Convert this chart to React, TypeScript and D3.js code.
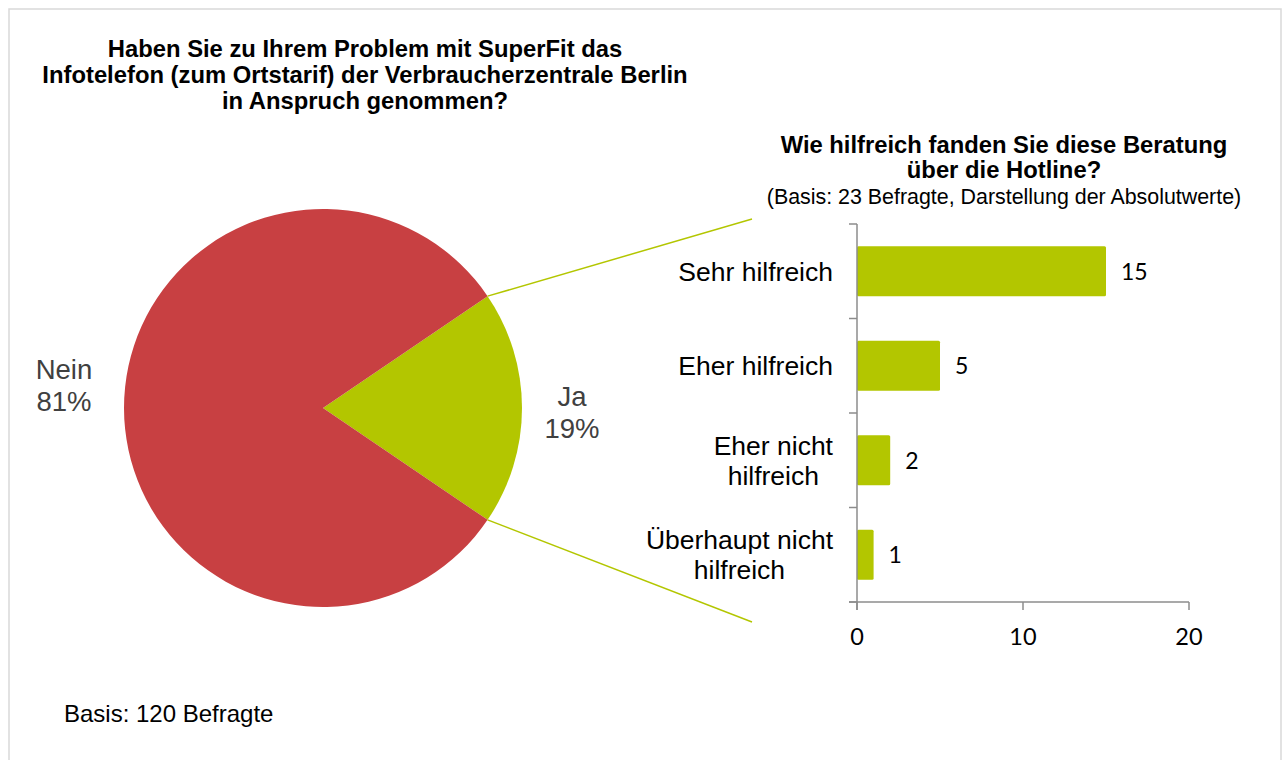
import React from 'react';
import * as d3 from 'd3';

// pie: did they use the hotline?
const pieLabels = ['Ja', 'Nein'];
const pieValues = [19, 81];

// bar: how helpful was it
const barCategories = ['Sehr hilfreich', 'Eher hilfreich', 'Eher nicht hilfreich', 'Überhaupt nicht hilfreich'];
const barLabelLines = [['Sehr hilfreich'], ['Eher hilfreich'], ['Eher nicht', 'hilfreich'], ['Überhaupt nicht', 'hilfreich']];
const barValues = [15, 5, 2, 1];
const xTicks = [0, 10, 20];

const titleLines = [
  'Haben Sie zu Ihrem Problem mit SuperFit das',
  'Infotelefon (zum Ortstarif) der Verbraucherzentrale Berlin',
  'in Anspruch genommen?',
];
const barTitleLines = ['Wie hilfreich fanden Sie diese Beratung', 'über die Hotline?'];
const barSubtitle = '(Basis: 23 Befragte, Darstellung der Absolutwerte)';
const footnote = 'Basis: 120 Befragte';

const RED = '#C84042';
const GREEN = '#B3C600';
const AXIS = '#8C8C8C';
const ARIAL = "'Liberation Sans', Arial, sans-serif";
const CALIBRI = "Lato, 'Open Sans', sans-serif";

const ctx = document.createElement('canvas').getContext('2d');
function textWidth(t: string, font: string) {
  if (!ctx) return t.length * 12;
  ctx.font = font;
  return ctx.measureText(t).width;
}

const App = () => {
  const width = 1286;
  const height = 760;

  // pie geometry
  const cx = 323;
  const cy = 408;
  const r = 199;
  const total = d3.sum(pieValues);
  const start = Math.PI / 2 - (pieValues[0] / total) * Math.PI;
  const pie = d3.pie<number>().sort(null).startAngle(start).endAngle(start + 2 * Math.PI);
  const arcs = pie(pieValues);
  const arc = d3.arc<d3.PieArcDatum<number>>().innerRadius(0).outerRadius(r);
  const labelArc = d3.arc<d3.PieArcDatum<number>>().innerRadius(255).outerRadius(255);
  const labelNudge = [[-6, 4], [-4, -23]];

  // bar geometry
  const x = d3.scaleLinear().domain([0, 20]).range([857, 1189]);
  const y = d3.scaleBand<string>().domain(barCategories).range([224, 602]).paddingInner(0.47).paddingOuter(0.235);
  const yTop = 224;
  const yBottom = 602;
  const step = y.step();
  const boundaries = d3.range(barCategories.length + 1).map((i) => yTop + i * step);

  const ja = arcs[0];
  const p1 = [Math.sin(ja.startAngle) * r, -Math.cos(ja.startAngle) * r];
  const p2 = [Math.sin(ja.endAngle) * r, -Math.cos(ja.endAngle) * r];

  const catFont = `26.5px ${ARIAL}`;
  const labelRight = 833;

  return (
    <svg width={width} height={height} style={{ position: 'absolute', left: 0, top: 0 }}>
      <rect x={0} y={0} width={width} height={height} fill="#fff" />
      <rect x={9} y={9} width={1272} height={800} fill="none" stroke="#D9D9D9" strokeWidth={1.5} />

      {titleLines.map((t, i) => (
        <text key={t} x={365} y={57 + i * 26} textAnchor="middle" fontFamily={ARIAL} fontWeight="bold" fontSize={23.8} fill="#000">
          {t}
        </text>
      ))}

      <g transform={`translate(${cx},${cy})`}>
        {arcs.map((a, i) => (
          <path key={pieLabels[i]} d={arc(a) || ''} fill={i === 0 ? GREEN : RED} />
        ))}
        {arcs.map((a, i) => {
          const [cxl, cyl] = labelArc.centroid(a);
          const lx = cxl + labelNudge[i][0];
          const ly = cyl + labelNudge[i][1];
          return (
            <text key={pieLabels[i]} x={lx} y={ly} textAnchor="middle" fontFamily={ARIAL} fontSize={27.5} fill="#404040">
              <tspan x={lx} dy={-6}>{pieLabels[i]}</tspan>
              <tspan x={lx} dy={32}>{Math.round((pieValues[i] / total) * 100)}%</tspan>
            </text>
          );
        })}
      </g>

      <line x1={cx + p1[0]} y1={cy + p1[1]} x2={752} y2={yTop - 5} stroke={GREEN} strokeWidth={1.5} />
      <line x1={cx + p2[0]} y1={cy + p2[1]} x2={752} y2={yBottom + 20} stroke={GREEN} strokeWidth={1.5} />

      {barTitleLines.map((t, i) => (
        <text key={t} x={1004} y={153 + i * 25} textAnchor="middle" fontFamily={ARIAL} fontWeight="bold" fontSize={23.8} fill="#000">
          {t}
        </text>
      ))}
      <text x={1004} y={204} textAnchor="middle" fontFamily={ARIAL} fontSize={21.4} fill="#000">
        {barSubtitle}
      </text>

      {barCategories.map((c, i) => (
        <rect key={c} x={x(0)} y={y(c)} width={x(barValues[i]) - x(0)} height={y.bandwidth()} fill={GREEN} rx={1.5} />
      ))}
      {barCategories.map((c, i) => (
        <text key={c} x={x(barValues[i]) + 15} y={(y(c) || 0) + y.bandwidth() / 2} dy="0.36em" fontFamily={CALIBRI} fontSize={23} fill="#000">
          {barValues[i]}
        </text>
      ))}

      {barCategories.map((c, i) => {
        const lines = barLabelLines[i];
        const maxW = d3.max(lines, (l) => textWidth(l, catFont)) || 0;
        const lx = labelRight - maxW / 2;
        const mid = (y(c) || 0) + y.bandwidth() / 2;
        return (
          <text key={c} textAnchor="middle" fontFamily={ARIAL} fontSize={26.5} fill="#000">
            {lines.map((l, j) => (
              <tspan key={j} x={lx} y={mid + (j - (lines.length - 1) / 2) * 30} dy="0.36em">
                {l}
              </tspan>
            ))}
          </text>
        );
      })}

      <g stroke={AXIS} strokeWidth={1.5}>
        <line x1={x(0)} y1={yTop} x2={x(0)} y2={yBottom + 8} />
        <line x1={x(0) - 8} y1={yBottom} x2={x(20)} y2={yBottom} />
        {boundaries.map((b, i) => (
          <line key={i} x1={x(0) - 8} y1={b} x2={x(0)} y2={b} />
        ))}
        {xTicks.map((t) => (
          <line key={t} x1={x(t)} y1={yBottom} x2={x(t)} y2={yBottom + 8} />
        ))}
      </g>
      {xTicks.map((t) => (
        <text key={t} x={x(t)} y={645} textAnchor="middle" fontFamily={CALIBRI} fontSize={23.5} fill="#000">
          {t}
        </text>
      ))}

      <text x={64} y={722} fontFamily={ARIAL} fontSize={24} fill="#000">
        {footnote}
      </text>
    </svg>
  );
};

export default App;
